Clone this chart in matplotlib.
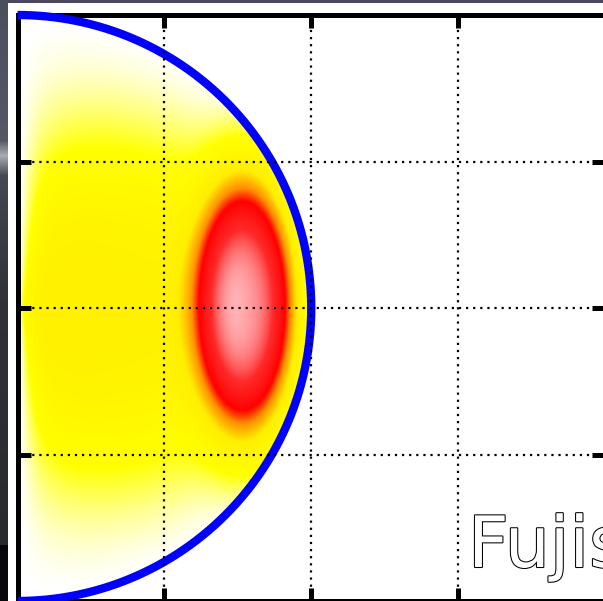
import numpy as np
import matplotlib
matplotlib.use('Agg')
import matplotlib.pyplot as plt
import matplotlib.patheffects as pe
from matplotlib.colors import LinearSegmentedColormap
from matplotlib.patches import Rectangle

W, H = 603, 601

# colour scale of the profile
cmap_levels = [0.0, 0.18, 0.42, 0.56, 0.66, 0.84, 1.0]
cmap_colors = ['#ffffff', '#ffff00', '#ffee00', '#ff9000', '#ff0000', '#ff2a2a', '#ffb4b8']

# half-disk profile: smooth background plus an off-axis bump
radius = 2.0
bg_amp = 0.38
bg_sy = 1.4
edge_len = 0.06
edge_ang = 0.15
bump_amp = 0.74
bump_x0, bump_y0 = 1.57, 0.02
bump_sx, bump_sy = 0.29, 0.79

xlim = (0, 4)
ylim = (-2, 2)
xticks = [1, 2, 3]
yticks = [-1, 0, 1]
label = 'Fujis'

cmap = LinearSegmentedColormap.from_list(
    'prof', list(zip(cmap_levels, cmap_colors)))

x = np.linspace(0, radius, 500)
y = np.linspace(-radius, radius, 1000)
X, Y = np.meshgrid(x, y)
R = np.hypot(X, Y)
cos_t = X / np.maximum(R, 1e-9)
bg = bg_amp * (1 - np.exp(-X / edge_len)) * (1 - np.exp(-cos_t / edge_ang)) \
    * np.exp(-(np.abs(Y) / bg_sy) ** 2.5) * np.clip(1 - (R / radius) ** 4, 0, 1)
q = ((X - bump_x0) / bump_sx) ** 2 + ((Y - bump_y0) / bump_sy) ** 2
bump = bump_amp * np.exp(-0.5 * q ** 1.5)
Z = np.ma.masked_where(R > radius, np.clip(bg + bump, 0, 1))

fig = plt.figure(figsize=(W / 100, H / 100), dpi=100)
fig.patch.set_facecolor('#4a4760')

# dark surround of the screen grab
left = fig.add_axes([0, 0, 8 / W, 1])
stops = [(0, (75, 78, 92)), (140, (85, 88, 100)), (155, (170, 170, 178)),
         (175, (70, 72, 82)), (300, (48, 50, 56)), (544, (40, 42, 46)),
         (545, (8, 8, 10)), (601, (8, 8, 10))]
rows = np.arange(H)
strip = np.stack([np.interp(rows, [s[0] for s in stops], [s[1][c] for s in stops])
                  for c in range(3)], axis=-1) / 255
left.imshow(strip[:, None, :], aspect='auto', extent=(0, 1, H, 0))
left.axis('off')
fig.add_artist(Rectangle((8 / W, 0), 1, (H - 3) / H, transform=fig.transFigure,
                         facecolor='white', edgecolor='none', zorder=0))

ax = fig.add_axes([17.5 / W, 0.0, 587.5 / W, 586 / H])
ax.imshow(Z, extent=(0, radius, -radius, radius), origin='lower', cmap=cmap,
          vmin=0, vmax=1, interpolation='bilinear', zorder=1)
ax.set_aspect('auto')

th = np.linspace(-np.pi / 2, np.pi / 2, 600)
ax.plot(radius * np.cos(th), radius * np.sin(th), color='#0000ff', lw=6,
        solid_capstyle='butt', clip_on=False, zorder=5)

ax.set_xlim(*xlim)
ax.set_ylim(*ylim)
ax.set_xticks(xticks)
ax.set_yticks(yticks)
ax.tick_params(direction='in', length=9.5, width=3.6, top=True, right=True,
               labelleft=False, labelbottom=False)
ax.grid(True, color='black', lw=1.6, linestyle=(0, (1, 2.2)))
ax.xaxis.set_zorder(6)
ax.yaxis.set_zorder(6)
for s in ax.spines.values():
    s.set_linewidth(3.6)

fig.text(468 / W, (H - 567) / H, label, fontsize=51, color='white',
         ha='left', va='baseline', zorder=10,
         path_effects=[pe.Stroke(linewidth=1.5, foreground='black'), pe.Normal()])

fig.savefig('out.png', dpi=100, facecolor=fig.get_facecolor())
